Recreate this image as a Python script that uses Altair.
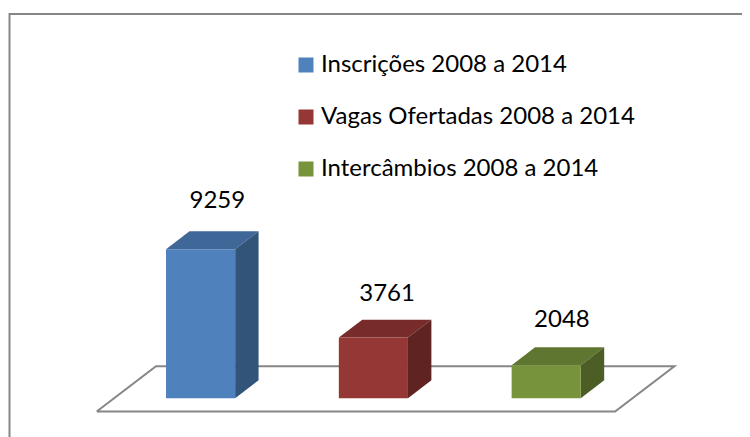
import altair as alt
import pandas as pd

series = ["Inscrições 2008 a 2014", "Vagas Ofertadas 2008 a 2014", "Intercâmbios 2008 a 2014"]
values = [9259, 3761, 2048]
front_colors = ["#4F81BD", "#953735", "#77933C"]
top_colors = ["#3F6797", "#772C2A", "#5F7630"]
side_colors = ["#335479", "#5F2322", "#4C5E26"]

# layout (page pixels -> scale domains)
W, H = 734, 429
SLOT = 172.8
FLOOR_X0 = 96.7
FLOOR_Y0 = 411.5
PX_PER_UNIT = 149 / 9259
DEPTH_X = 59.3 / SLOT
DEPTH_Y = 45.3 / PX_PER_UNIT
BAR_START, BAR_WIDTH = 0.3, 0.4
DEPTH_FRONT, DEPTH_BACK = 0.295, 0.69
LABEL_LIFT = [30, 26, 27]
LABEL_SHIFT = [5 / SLOT, 2 / SLOT, 4 / SLOT]

xdom = [(8 - FLOOR_X0) / SLOT, (8 + W - FLOOR_X0) / SLOT]
ydom = [(FLOOR_Y0 - 8 - H) / PX_PER_UNIT, (FLOOR_Y0 - 8) / PX_PER_UNIT]
X = alt.Scale(domain=xdom, nice=False, zero=False)
Y = alt.Scale(domain=ydom, nice=False, zero=False)
noaxis = dict(axis=None)


def px(slot, depth):
    return slot + depth * DEPTH_X


def py(value, depth):
    return value + depth * DEPTH_Y


floor = pd.DataFrame(
    [
        {"x": px(a, d), "y": py(0, d), "o": i}
        for i, (a, d) in enumerate([(0, 0), (3, 0), (3, 1), (0, 1), (0, 0)])
    ]
)
fronts, tops, sides, labels = [], [], [], []
for i, (s, v) in enumerate(zip(series, values)):
    l, r = i + BAR_START, i + BAR_START + BAR_WIDTH
    fronts.append(
        {"s": s, "x": px(l, DEPTH_FRONT), "x2": px(r, DEPTH_FRONT),
         "y": py(0, DEPTH_FRONT), "y2": py(v, DEPTH_FRONT)}
    )
    tops.extend(
        {"s": s, "x": px(l, d), "x2": px(r, d), "y": py(v, d)}
        for d in (DEPTH_FRONT, DEPTH_BACK)
    )
    sides.extend(
        {"s": s, "x": px(r, d), "y": py(0, d), "y2": py(v, d)}
        for d in (DEPTH_FRONT, DEPTH_BACK)
    )
    labels.append(
        {"s": s, "t": str(v), "x": px(i + 0.5, (DEPTH_FRONT + DEPTH_BACK) / 2) + LABEL_SHIFT[i],
         "y": py(v, DEPTH_BACK) + LABEL_LIFT[i] / PX_PER_UNIT}
    )

sx = alt.X("x:Q", scale=X, **noaxis)
sy = alt.Y("y:Q", scale=Y, **noaxis)

frame = alt.Chart(pd.DataFrame({"a": [0]})).mark_rect(
    fill="white", stroke="#868686", strokeWidth=2
).encode(x=alt.value(1.5), x2=alt.value(770), y=alt.value(6), y2=alt.value(470))

floor_layer = alt.Chart(floor).mark_line(color="#868686", strokeWidth=2).encode(
    x=sx, y=sy, order="o:Q"
)
front_layer = alt.Chart(pd.DataFrame(fronts)).mark_rect(strokeWidth=0).encode(
    x=sx,
    x2="x2:Q",
    y=sy,
    y2="y2:Q",
    color=alt.Color(
        "s:N",
        scale=alt.Scale(domain=series, range=front_colors),
        sort=series,
        legend=alt.Legend(
            title=None,
            orient="none",
            legendX=286,
            legendY=45,
            symbolType="square",
            symbolSize=225,
            symbolStrokeWidth=0,
            symbolOpacity=1,
            labelFont="Lato",
            labelFontSize=24,
            labelColor="#000000",
            labelLimit=400,
            labelOffset=3,
            rowPadding=28,
        ),
    ),
)
top_layer = alt.Chart(pd.DataFrame(tops)).mark_area(orient="horizontal").encode(
    y=sy, x=sx, x2="x2:Q",
    color=alt.Color("s:N", scale=alt.Scale(domain=series, range=top_colors), legend=None),
)
side_layer = alt.Chart(pd.DataFrame(sides)).mark_area().encode(
    x=sx, y=sy, y2="y2:Q",
    color=alt.Color("s:N", scale=alt.Scale(domain=series, range=side_colors), legend=None),
)
label_layer = alt.Chart(pd.DataFrame(labels)).mark_text(
    font="Lato", fontSize=24, color="#000000", baseline="middle"
).encode(x=sx, y=sy, text="t:N")

chart = (
    alt.layer(frame, floor_layer, top_layer, side_layer, front_layer, label_layer)
    .resolve_scale(color="independent")
    .properties(width=W, height=H, padding=0, autosize=alt.AutoSizeParams(type="none"))
    .configure_view(stroke=None)
)
chart.save("out.html", embed_options={"renderer": "svg", "actions": False})
